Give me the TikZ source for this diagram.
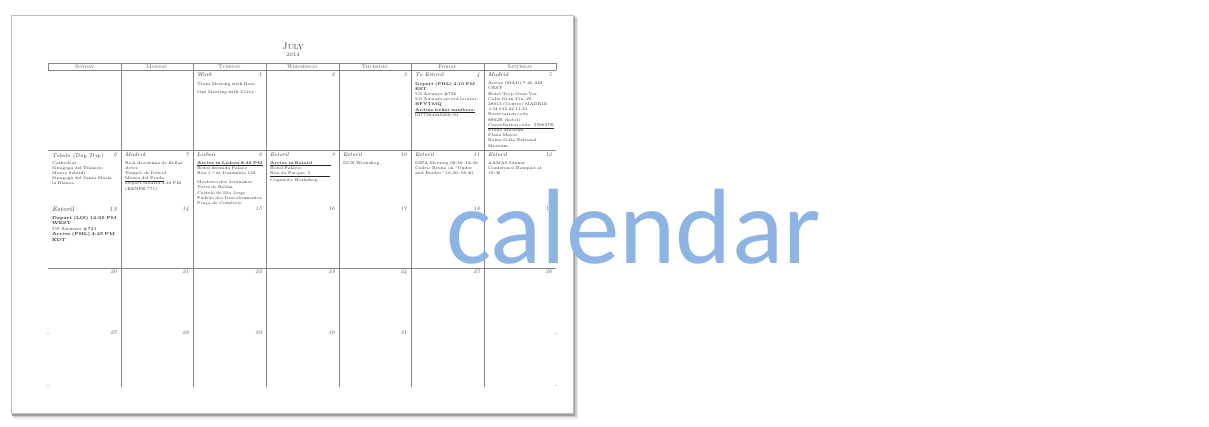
\documentclass[tikz,border=0pt]{standalone}
\usepackage{fontspec}
\newfontfamily\calfont{Carlito}
\definecolor{calblue}{RGB}{142,180,227}
\definecolor{gridgray}{RGB}{130,130,130}
\begin{document}
\begin{tikzpicture}[x=1pt,y=-1pt,
  gridline/.style={draw=gridgray, line width=0.75pt},
  hd/.style={font=\fontsize{5.4}{6}\selectfont\scshape, text=black!70, inner sep=0pt},
  place/.style={font=\fontsize{5.4}{5.4}\selectfont\itshape, text=black!85, anchor=north west, inner sep=0pt},
  dnum/.style={font=\fontsize{5.4}{5.4}\selectfont\itshape, text=black!75, anchor=north east, inner sep=0pt},
  ev/.style={font=\fontsize{4.0}{5.2}\selectfont, text=black!85, anchor=north west, inner sep=0pt, align=left, text width=68pt},
]
\useasboundingbox (0,0) rectangle (1209,427);
% page shadow
\fill[black!8] (14,19) rectangle (578,419);
\fill[black!20] (13,17) rectangle (576.5,417);
\fill[black!38] (12,16) rectangle (574.5,415.5);
% page
\node[draw=black!25, fill=white, line width=0.5pt, minimum width=562pt, minimum height=398pt, inner sep=0pt, anchor=north west] (page) at (11,15) {};
% title
\node[font=\fontsize{9.5}{9.5}\selectfont\scshape, text=black!75, inner sep=0pt, anchor=base] (month) at (293,50) {July};
\node[font=\fontsize{5.5}{5.5}\selectfont, text=black!70, inner sep=0pt, anchor=base] (year) at (293,57) {2014};
% grid
\draw[gridline] (48,63) -- (556,63);
\draw[gridline] (48,70) -- (556,70);
\draw[gridline] (48,150) -- (556,150);
\draw[gridline] (48,268) -- (556,268);
\draw[gridline] (48,63) -- (48,70);
\draw[gridline] (556,63) -- (556,70);
\foreach \xx in {121,193,266,339,411,484} \draw[gridline] (\xx,63) -- (\xx,387);
\foreach \yy in {333,385} {\draw[black!20, line width=0.5pt] (47,\yy) -- (49,\yy); \draw[black!20, line width=0.5pt] (555,\yy) -- (557,\yy);}
% headers
\node[hd] (hsun) at (84.5,67) {Sunday};
\node[hd] (hmon) at (157,67) {Monday};
\node[hd] (htue) at (229.5,67) {Tuesday};
\node[hd] (hwed) at (302.5,67) {Wednesday};
\node[hd] (hthu) at (375,67) {Thursday};
\node[hd] (hfri) at (447.5,67) {Friday};
\node[hd] (hsat) at (520,67) {Saturday};
% week 1
\node[place] (p1) at (197,73) {Work};
\node[dnum] (d1) at (262,73) {1};
\node[ev] (e1) at (197,82.5) {Team Meeting with Ross\\[3pt] Ops Meeting with Corey};
\node[dnum] (d2) at (335,73) {2};
\node[dnum] (d3) at (407,73) {3};
\node[place] (p4) at (415,73) {To Estoril};
\node[dnum] (d4) at (480,73) {4};
\node[ev] (e4) at (415,82) {\textbf{Depart (PHL) 4:10 PM}\\ \textbf{EST}\\ US Airways \#736\\ US Airways record locator:\\ \textbf{BFYTMQ}\\ \textbf{\underline{Airline ticket numbers:}}\\ 0377394245290/91};
\node[place] (p5) at (488,73) {Madrid};
\node[dnum] (d5) at (552,73) {5};
\node[ev] (e5) at (488,81.5) {Arrive (MAD) 7:45 AM\\ CEST\\ Hotel Tryp Gran Via\\ Calle Gran Via, 25\\ 28013 (Centro) MADRID\\ +34 915 22 11 21\\ Reservation code\\ 8802R (hotel)\\ \underline{Cancellation code: 359627E}\\ Prado Museum\\ Plaza Mayor\\ Reina Sofía National\\ Museum};
% week 2
\node[place] (p6) at (52,153) {Toledo (Day Trip)};
\node[dnum] (d6) at (117,153) {6};
\node[ev] (e6) at (52,161) {Cathedral\\ Sinagoga del Tránsito\\ Museo Sefardí\\ Sinagoga del Santa María\\ la Blanca};
\node[place] (p7) at (125,153) {Madrid};
\node[dnum] (d7) at (189,153) {7};
\node[ev] (e7) at (125,161) {Real Academia de Bellas\\ Artes\\ Templo de Debod\\ \underline{Museo del Prado}\\ Depart Madrid 4:30 PM\\ (RENFE 771)};
\node[place] (p8) at (197,153) {Lisbon};
\node[dnum] (d8) at (262,153) {8};
\node[ev] (e8) at (197,161) {\underline{\textbf{Arrive in Lisbon 8:30 PM}}\\ Hotel Avenida Palace\\ Rua 1.º de Dezembro 123\\[4pt] Mosteiro dos Jerónimos\\ Torre de Belém\\ Castelo de São Jorge\\ Padrão dos Descobrimentos\\ Praça do Comércio};
\node[place] (p9) at (270,153) {Estoril};
\node[dnum] (d9) at (335,153) {9};
\node[ev] (e9) at (270,161) {\underline{\textbf{Arrive in Estoril}\hspace{18pt}}\\ Hotel Palácio\\ \underline{Rua do Parque, 5\hspace{20pt}}\\ Cognitive Workshop};
\node[place] (p10) at (343,153) {Estoril};
\node[dnum] (d10) at (407,153) {10};
\node[ev] (e10) at (343,161) {DCB Workshop};
\node[place] (p11) at (415,153) {Estoril};
\node[dnum] (d11) at (480,153) {11};
\node[ev] (e11) at (415,161) {DIPA Meeting 08:30–12:30\\ Cedric Bruno on ``Under\\ and Border'' 16:30–18:30};
\node[place] (p12) at (488,153) {Estoril};
\node[dnum] (d12) at (552,153) {12};
\node[ev] (e12) at (488,161) {AAMAS Dinner\\ Conference Banquet at\\ 19:30};
% week 3
\node[place, font=\fontsize{6.3}{6.3}\selectfont\itshape] (p13) at (52,207) {Estoril};
\node[dnum, font=\fontsize{6.3}{6.3}\selectfont\itshape] (d13) at (117,207) {13};
\node[ev, font=\fontsize{4.3}{5.4}\selectfont] (e13) at (52,216) {\textbf{Depart (LIS) 12:05 PM}\\ \textbf{WEST}\\ US Airways \#723\\ \textbf{Arrive (PHL) 4:45 PM EDT}};
\node[dnum] (d14) at (189,207) {14};
\node[dnum] (d15) at (262,207) {15};
\node[dnum] (d16) at (335,207) {16};
\node[dnum] (d17) at (407,207) {17};
\node[dnum] (d18) at (480,207) {18};
\node[dnum] (d19) at (552,207) {19};
% week 4
\node[dnum] (d20) at (117,270) {20};
\node[dnum] (d21) at (189,270) {21};
\node[dnum] (d22) at (262,270) {22};
\node[dnum] (d23) at (335,270) {23};
\node[dnum] (d24) at (407,270) {24};
\node[dnum] (d25) at (480,270) {25};
\node[dnum] (d26) at (552,270) {26};
% week 5
\node[dnum] (d27) at (117,331) {27};
\node[dnum] (d28) at (189,331) {28};
\node[dnum] (d29) at (262,331) {29};
\node[dnum] (d30) at (335,331) {30};
\node[dnum] (d31) at (407,331) {31};
% big label
\node[font=\calfont\fontsize{107}{107}\selectfont, text=calblue, anchor=base west, inner sep=0pt] (label) at (446,264) {calendar};
\end{tikzpicture}
\end{document}
